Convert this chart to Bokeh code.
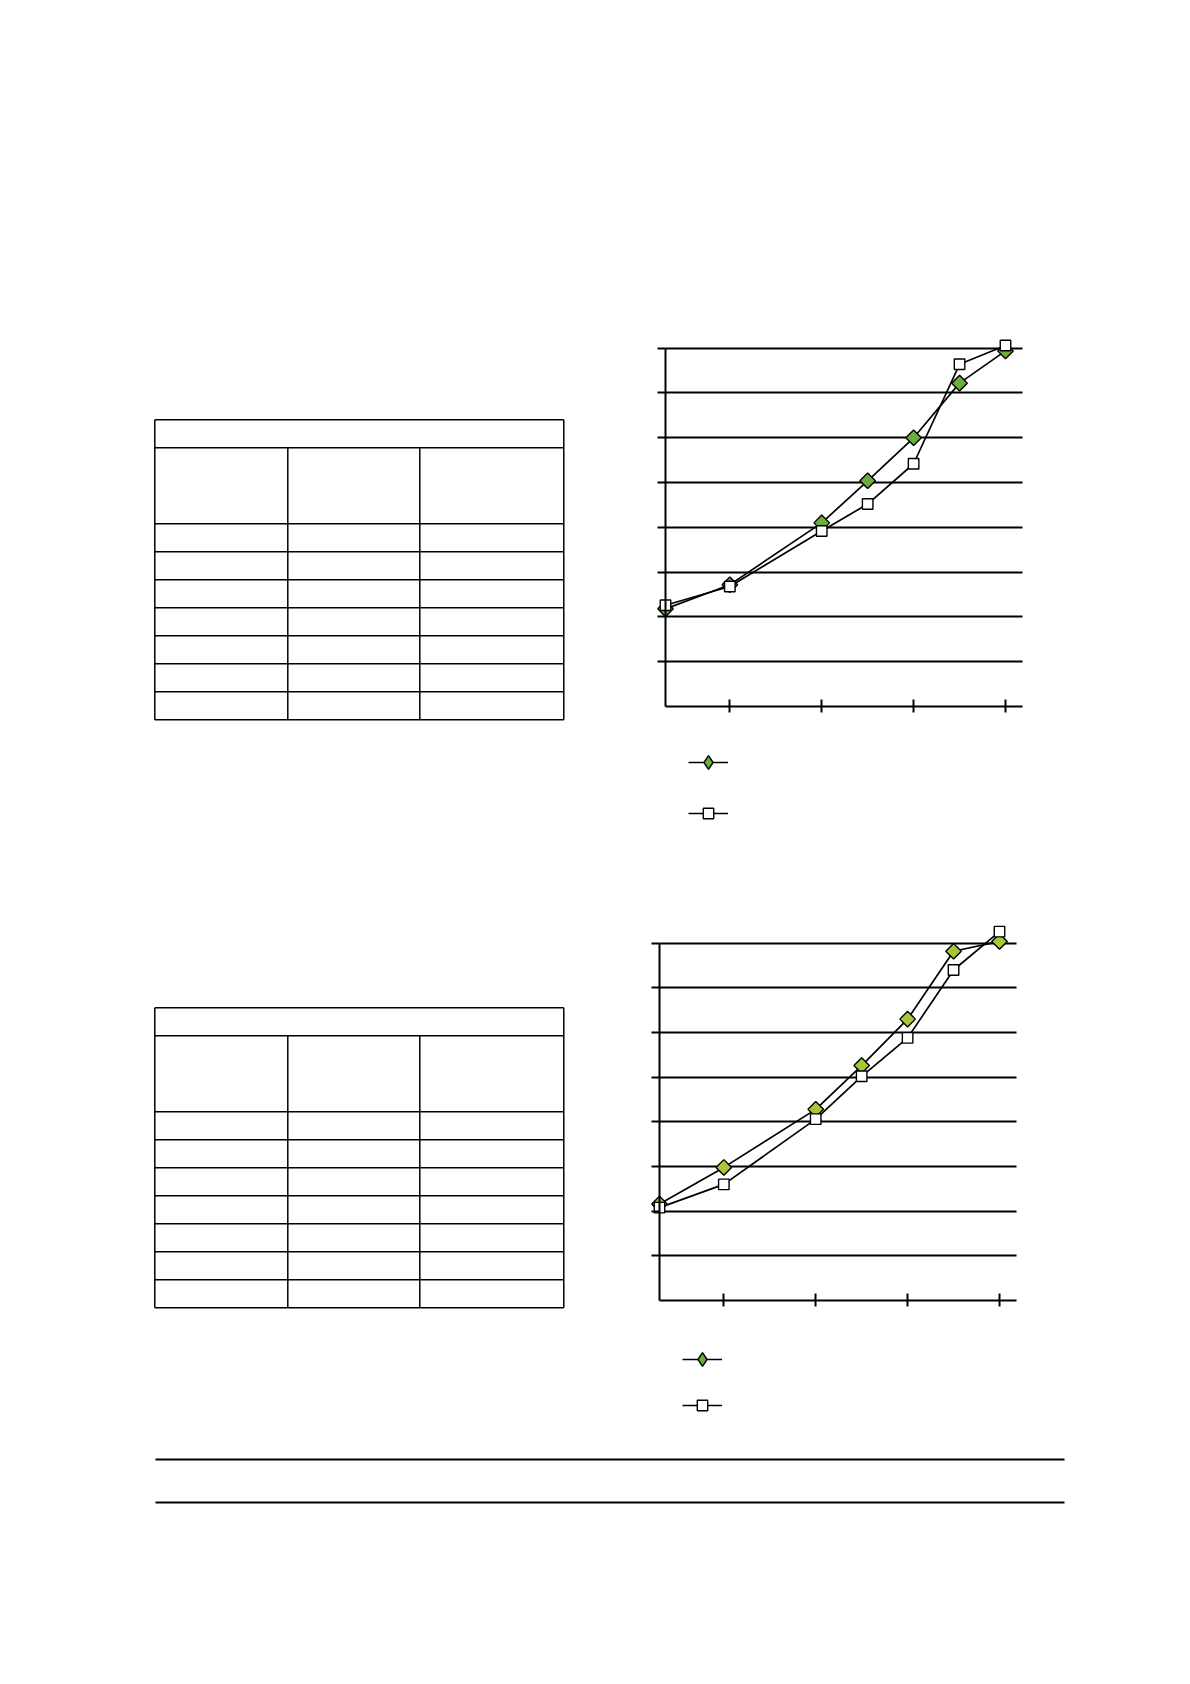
import math

from bokeh.embed import file_html
from bokeh.layouts import column, row
from bokeh.models import FixedTicker, Legend, LegendItem, Range1d
from bokeh.plotting import figure
from bokeh.resources import INLINE

# ---------------------------------------------------------------- data
time_pts = [3, 10, 20, 25, 30, 35, 40]
x_ticks = [10, 20, 30, 40]
y_ticks = [5, 10, 15, 20, 25, 30, 35, 40]

# upper chart
upper_a = [10.9, 13.6, 20.5, 25.2, 30.0, 36.1, 39.7]
upper_b = [11.3, 13.4, 19.6, 22.6, 27.1, 38.2, 40.3]
# lower chart
lower_a = [10.8, 14.9, 21.4, 26.3, 31.5, 39.1, 40.2]
lower_b = [10.4, 13.0, 20.3, 25.1, 29.4, 37.0, 41.3]

X_MIN, X_MAX = 3, 41.9
Y_MIN, Y_MAX = 0, 40

# table layout (px): column widths and row heights
col_widths = [133, 132, 144]
row_heights = [28, 76] + [28] * 7
table_left = 154.3
table_tops = [419.3, 1007.3]

LEFT_W, RIGHT_W = 600, 590
TOP_H, MID_H, BOTTOM_H = 880, 560, 244

GREEN = "#6cae3c"
YELLOW_GREEN = "#a6c63c"


def blank_fig(w, h, xr, yr):
    p = figure(width=w, height=h, x_range=xr, y_range=yr,
               output_backend="svg", toolbar_location=None,
               min_border=0, title=None)
    p.axis.visible = False
    p.grid.visible = False
    p.outline_line_color = None
    p.background_fill_color = "white"
    p.border_fill_color = "white"
    return p


def key(renderers, left, cy, fig_h, glyph_h, glyph_w=40):
    """One-entry legend whose sample is centred vertically on cy."""
    return Legend(
        items=[LegendItem(label=" ", renderers=renderers)],
        location=(left, fig_h - (cy + glyph_h / 2)), orientation="vertical",
        glyph_width=glyph_w, glyph_height=glyph_h, label_height=glyph_h,
        label_width=0, label_standoff=0, padding=0, margin=0,
        border_line_color=None, background_fill_alpha=0,
        inactive_fill_alpha=0, label_text_font_size="8px",
    )


def chart(w, h, px_x3, px_x40, px_y0, px_y40, fill_a, a_vals, b_vals,
          key_left, key_a_y, key_b_y, key_fill):
    # ranges chosen so that the axes land at the requested pixel spots
    sx = (px_x40 - px_x3) / (40 - 3)
    x0 = 3 - px_x3 / sx
    sy = (px_y0 - px_y40) / 40.0
    y0 = -(h - px_y0) / sy
    p = blank_fig(w, h, Range1d(x0, x0 + w / sx), Range1d(y0, y0 + h / sy))

    xa = p.xaxis[0]
    xa.visible = True
    xa.fixed_location = 0
    xa.bounds = (X_MIN, X_MAX)
    xa.ticker = FixedTicker(ticks=x_ticks)
    xa.major_tick_in = 7
    xa.major_tick_out = 6
    xa.minor_tick_line_color = None
    xa.major_label_text_color = None
    xa.axis_line_width = 2
    xa.major_tick_line_width = 2

    ya = p.yaxis[0]
    ya.visible = True
    ya.fixed_location = 3
    ya.bounds = (Y_MIN, Y_MAX)
    ya.ticker = FixedTicker(ticks=y_ticks)
    ya.major_tick_in = 0
    ya.major_tick_out = 8
    ya.minor_tick_line_color = None
    ya.major_label_text_color = None
    ya.axis_line_width = 2
    ya.major_tick_line_width = 2

    g = p.ygrid[0]
    g.visible = True
    g.ticker = FixedTicker(ticks=y_ticks)
    g.bounds = (Y_MIN - 1, Y_MAX + 1)
    g.cross_bounds = (X_MIN, X_MAX - 0.1)
    g.grid_line_color = "black"
    g.grid_line_width = 2

    la = p.line(time_pts, a_vals, line_color="black", line_width=1.7)
    p.scatter(time_pts, a_vals, marker="square", angle=math.pi / 4,
              size=11, fill_color=fill_a, line_color="black", line_width=1.4)
    lb = p.line(time_pts, b_vals, line_color="black", line_width=1.7)
    sb = p.scatter(time_pts, b_vals, marker="square", size=10.5,
                   fill_color="white", line_color="black", line_width=1.4)
    # diamond-shaped sample for the key (not drawn in the plot itself)
    sa_key = p.scatter(time_pts, a_vals, marker="diamond", size=14,
                       fill_color=key_fill, line_color="black",
                       line_width=1.4, visible=False)

    p.add_layout(key([la, sa_key], key_left, key_a_y, h, 34), "center")
    p.add_layout(key([lb, sb], key_left, key_b_y, h, 26), "center")
    return p


# ---------------------------------------------------------------- charts
chart_top = chart(RIGHT_W, TOP_H, 65, 405, 706, 347.7, GREEN,
                  upper_a, upper_b, 88, 761.7, 813.3, GREEN)
chart_bottom = chart(RIGHT_W, MID_H, 59, 399, 420, 62.7, YELLOW_GREEN,
                     lower_a, lower_b, 82, 479, 525, GREEN)

# ---------------------------------------------------------------- tables
tables = blank_fig(LEFT_W, TOP_H + MID_H, Range1d(0, LEFT_W),
                   Range1d(TOP_H + MID_H, 0))
hx0, hx1, hy, vx, vy0, vy1 = [], [], [], [], [], []
for top in table_tops:
    right = table_left + sum(col_widths)
    y = top
    hx0.append(table_left); hx1.append(right); hy.append(y)
    for rh in row_heights:
        y += rh
        hx0.append(table_left); hx1.append(right); hy.append(y)
    bottom = y
    # outer sides
    vx += [table_left, right]
    vy0 += [top, top]
    vy1 += [bottom, bottom]
    # column dividers below the title row
    x = table_left
    for cw in col_widths[:-1]:
        x += cw
        vx.append(x); vy0.append(top + row_heights[0]); vy1.append(bottom)
tables.segment(hx0, hy, hx1, hy, line_color="black", line_width=1.5)
tables.segment(vx, vy0, vx, vy1, line_color="black", line_width=1.5)

# ---------------------------------------------------------------- rules
rules = blank_fig(LEFT_W + RIGHT_W, BOTTOM_H, Range1d(0, LEFT_W + RIGHT_W),
                  Range1d(BOTTOM_H, 0))
rule_y = [19, 62]
rules.segment([155] * 2, rule_y, [1064] * 2, rule_y,
              line_color="black", line_width=2.2)

page = column(row(tables, column(chart_top, chart_bottom)), rules)

with open("out.html", "w") as f:
    f.write(file_html(page, INLINE))
